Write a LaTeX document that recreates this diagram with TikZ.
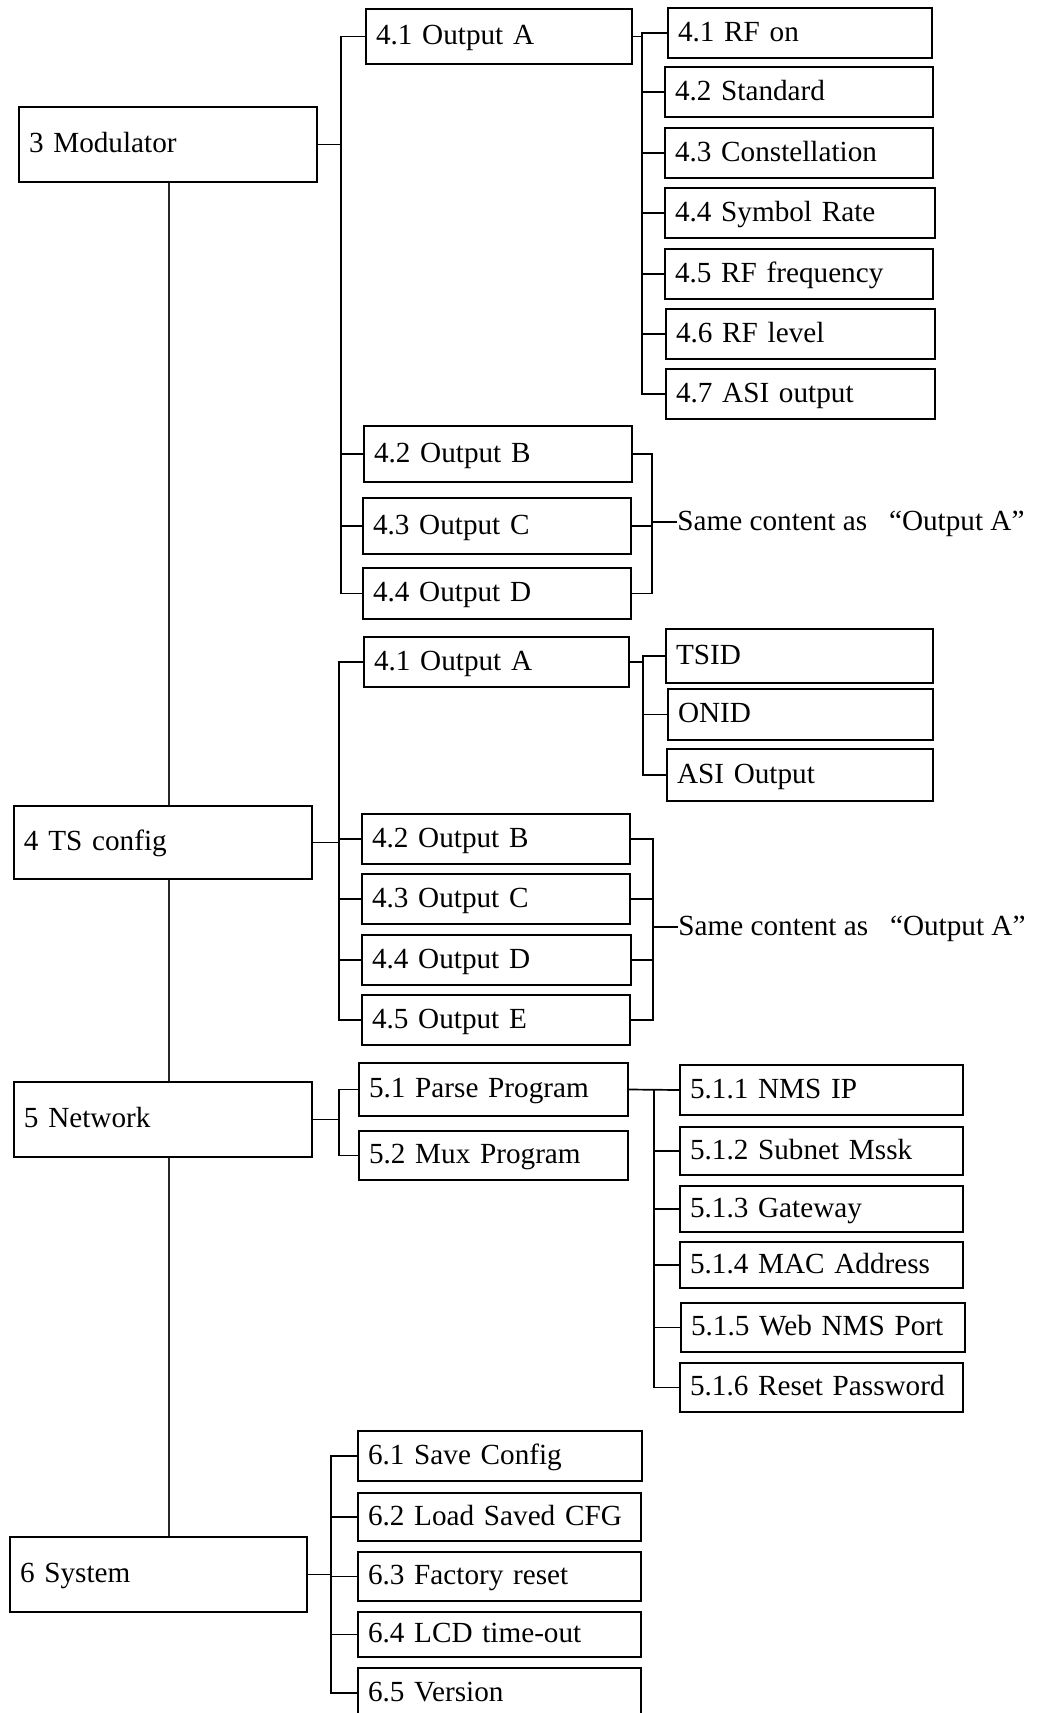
\documentclass[tikz,border=0pt]{standalone}
\usepackage{fontspec}
\setmainfont{Liberation Serif}
\newcommand\mybox[6]{%
  \pgfmathsetmacro\bw{(#4-#2)/2-10}%
  \pgfmathsetmacro\bh{(#5-#3)/2}%
  \node[bx, text width=\bw pt, minimum height=\bh pt, anchor=north west] (#1) at (#2,#3) {#6};}
\begin{document}
\begin{tikzpicture}[x=0.5pt,y=-0.5pt,
  every node/.style={font=\fontsize{14.6pt}{17.5pt}\selectfont},
  bx/.style={draw, line width=1pt, rectangle, inner xsep=5pt, inner ysep=0pt,
    align=left, text height=10pt, text depth=2pt},
  ln/.style={line width=0.85pt},
  trunkline/.style={line width=0.6pt, black!85},
  lbl/.style={inner sep=0pt, anchor=west, text height=10pt, text depth=2pt}]
\useasboundingbox (0,0) rectangle (1038,1713);
% ---- level 1
\mybox{mod}{18}{106}{316}{181}{3 Modulator}
\mybox{ts}{13}{805}{311}{878}{4 TS config}
\mybox{net}{13}{1081}{311}{1156}{5 Network}
\mybox{sys}{9}{1536}{306}{1611}{6 System}
% ---- modulator
\mybox{ma}{365}{8}{631}{63}{4.1 Output A}
\mybox{a1}{667}{7}{931}{57}{4.1 RF on}
\mybox{a2}{664}{66}{932}{116}{4.2 Standard}
\mybox{a3}{664}{127}{932}{177}{4.3 Constellation}
\mybox{a4}{664}{187}{934}{237}{4.4 Symbol Rate}
\mybox{a5}{664}{248}{932}{298}{4.5 RF frequency}
\mybox{a6}{665}{308}{934}{358}{4.6 RF level}
\mybox{a7}{665}{368}{934}{418}{4.7 ASI output}
\mybox{mb}{363}{425}{631}{481}{4.2 Output B}
\mybox{mc}{362}{497}{630}{553}{4.3 Output C}
\mybox{md}{362}{567}{630}{618}{4.4 Output D}
\node[lbl] (same1) at (677,522) {Same content as\hspace{0.75em}“Output A”};
% ---- TS config
\mybox{ta}{363}{636}{628}{686}{4.1 Output A}
\mybox{t1}{665}{628}{932}{682}{TSID}
\mybox{t2}{667}{688}{932}{739}{ONID}
\mybox{t3}{666}{748}{932}{800}{ASI Output}
\mybox{tb}{361}{813}{629}{863}{4.2 Output B}
\mybox{tc}{361}{873}{629}{923}{4.3 Output C}
\mybox{td}{361}{934}{630}{984}{4.4 Output D}
\mybox{te}{361}{994}{629}{1044}{4.5 Output E}
\node[lbl] (same2) at (678,927) {Same content as\hspace{0.75em}“Output A”};
% ---- Network
\mybox{np}{358}{1062}{627}{1115}{5.1 Parse Program}
\mybox{nm}{358}{1130}{627}{1179}{5.2 Mux Program}
\mybox{n1}{679}{1064}{962}{1114}{5.1.1 NMS IP}
\mybox{n2}{679}{1126}{962}{1174}{5.1.2 Subnet Mssk}
\mybox{n3}{679}{1185}{962}{1231}{5.1.3 Gateway}
\mybox{n4}{679}{1241}{962}{1287}{5.1.4 MAC Address}
\mybox{n5}{680}{1302}{964}{1351}{5.1.5 Web NMS Port}
\mybox{n6}{679}{1362}{962}{1411}{5.1.6 Reset Password}
% ---- System
\mybox{s1}{357}{1430}{641}{1480}{6.1 Save Config}
\mybox{s2}{357}{1492}{640}{1540}{6.2 Load Saved CFG}
\mybox{s3}{357}{1551}{640}{1600}{6.3 Factory reset}
\mybox{s4}{357}{1611}{640}{1656}{6.4 LCD time-out}
\mybox{s5}{357}{1667}{640}{1717}{6.5 Version}
% ---- bus coordinates
\coordinate (trunk) at (169,0);
\coordinate (bm) at (341,0);
\coordinate (ba) at (642,0);
\coordinate (bbr) at (652,0);
\coordinate (bt) at (339,0);
\coordinate (bta) at (643,0);
\coordinate (bbt) at (653,0);
\coordinate (bn) at (339,0);
\coordinate (bnp) at (654,0);
\coordinate (bs) at (331,0);
% ---- trunk
\draw[trunkline] (mod.south -| trunk) -- (ts.north -| trunk);
\draw[trunkline] (ts.south -| trunk) -- (net.north -| trunk);
\draw[trunkline] (net.south -| trunk) -- (sys.north -| trunk);
% ---- modulator connectors
\draw[ln] (mod.east) -- (mod.east -| bm);
\draw[ln] (ma.west) -| (bm |- md.west) -- (md.west);
\foreach \c in {mb,mc} \draw[ln] (\c.west -| bm) -- (\c.west);
\draw[ln] (ma.east) -- (ma.east -| ba);
\draw[ln] (a1.west) -| (ba |- a7.west) -- (a7.west);
\foreach \c in {a2,a3,a4,a5,a6} \draw[ln] (\c.west -| ba) -- (\c.west);
\draw[ln] (mb.east) -| (bbr |- md.east) -- (md.east);
\draw[ln] (mc.east) -- (mc.east -| bbr);
\draw[ln] (same1.west -| bbr) -- (same1.west);
% ---- TS connectors
\draw[ln] (ts.east) -- (ts.east -| bt);
\draw[ln] (ta.west) -| (bt |- te.west) -- (te.west);
\foreach \c in {tb,tc,td} \draw[ln] (\c.west -| bt) -- (\c.west);
\draw[ln] (ta.east) -- (ta.east -| bta);
\draw[ln] (t1.west) -| (bta |- t3.west) -- (t3.west);
\draw[ln] (t2.west -| bta) -- (t2.west);
\draw[ln] (tb.east) -| (bbt |- te.east) -- (te.east);
\foreach \c in {tc,td} \draw[ln] (\c.east) -- (\c.east -| bbt);
\draw[ln] (same2.west -| bbt) -- (same2.west);
% ---- Network connectors
\draw[ln] (net.east) -- (net.east -| bn);
\draw[ln] (np.west) -| (bn |- nm.west) -- (nm.west);
\draw[ln] (np.east) -- (n1.west);
\draw[ln] (n1.west -| bnp) |- (n6.west);
\foreach \c in {n2,n3,n4,n5} \draw[ln] (\c.west -| bnp) -- (\c.west);
% ---- System connectors
\draw[ln] (sys.east) -- (sys.east -| bs);
\draw[ln] (s1.west) -| (bs |- s5.west) -- (s5.west);
\foreach \c in {s2,s3,s4} \draw[ln] (\c.west -| bs) -- (\c.west);
\end{tikzpicture}
\end{document}
